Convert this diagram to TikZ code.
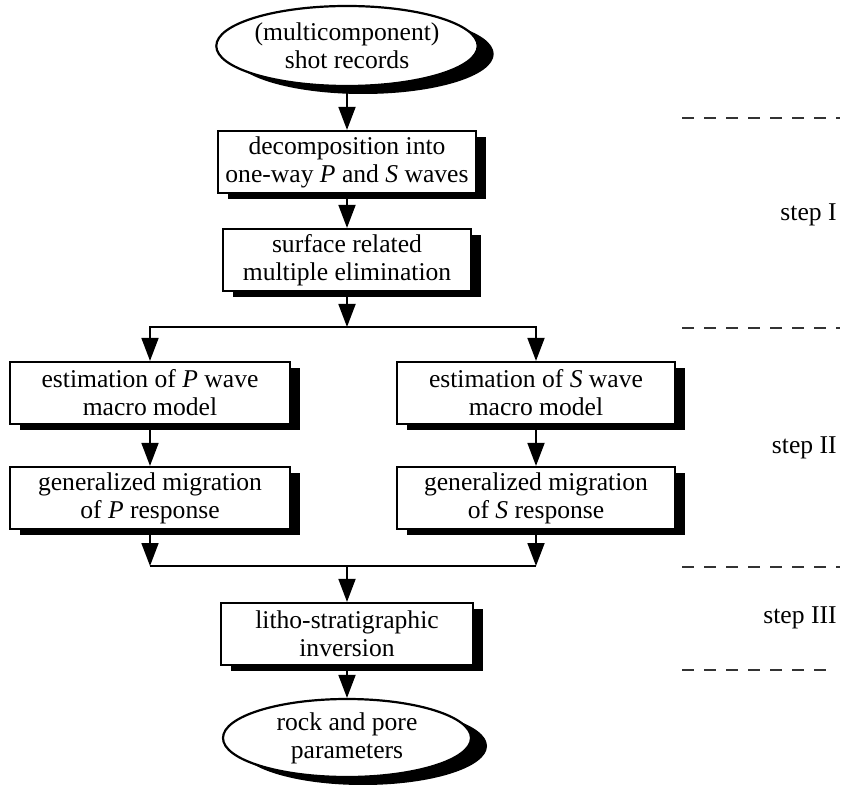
\documentclass[tikz,border=0pt]{standalone}
\usepackage{fontspec}
\setmainfont{Liberation Serif}
\usetikzlibrary{arrows.meta,shapes.geometric,shadows}
\begin{document}
\begin{tikzpicture}[x=0.5pt,y=-0.5pt,
  txt/.style={font=\fontsize{12.8}{14}\selectfont},
  procbox/.style={txt,draw,fill=white,line width=1.1pt,align=center,inner sep=0pt,
    minimum height=31pt,
    general shadow={fill=black,shadow xshift=5pt,shadow yshift=-3pt}},
  term/.style={txt,ellipse,draw,fill=white,line width=1.1pt,align=center,inner sep=0pt,
    general shadow={fill=black,shadow xshift=8pt,shadow yshift=-4pt}},
  arr/.style={line width=0.9pt,-{Triangle[length=11.5pt,width=8.5pt]}},
  conn/.style={line width=0.9pt},
  sepline/.style={line width=0.7pt,black!80,dash pattern=on 6pt off 5pt},
  steplbl/.style={txt,anchor=east,inner sep=0pt}]
\useasboundingbox (0,0) rectangle (845,785);

\node[term,minimum width=120pt,minimum height=40pt] (e1) at (347,46) {(multicomponent)\\shot records};
\node[procbox,minimum width=129pt] (b1) at (347,162) {decomposition into\\one-way \textit{P} and \textit{S} waves};
\node[procbox,minimum width=124pt] (b2) at (347,260) {surface related\\multiple elimination};
\node[procbox,minimum width=140pt] (b3l) at (150,393) {estimation of \textit{P} wave\\macro model};
\node[procbox,minimum width=139pt] (b3r) at (536,393) {estimation of \textit{S} wave\\macro model};
\node[procbox,minimum width=140pt] (b4l) at (150,498) {generalized migration\\of \textit{P} response};
\node[procbox,minimum width=139pt] (b4r) at (536,498) {generalized migration\\of \textit{S} response};
\node[procbox,minimum width=126pt] (b5) at (347,634) {litho-stratigraphic\\inversion};
\node[term,minimum width=124pt,minimum height=39pt] (e2) at (347,738) {rock and pore\\parameters};

\coordinate (j1) at (347,327);
\coordinate (j2) at (347,566);
\coordinate (j2l) at (150,566);
\coordinate (j2r) at (536,566);

\draw[arr] (e1) -- (b1);
\draw[arr] (b1) -- (b2);
\draw[arr] (b2) -- (j1);
\draw[arr] (j1) -| (b3l);
\draw[arr] (j1) -| (b3r);
\draw[arr] (b3l) -- (b4l);
\draw[arr] (b3r) -- (b4r);
\draw[arr] (b4l) -- (j2l);
\draw[arr] (b4r) -- (j2r);
\draw[conn] (j2l) -- (j2r);
\draw[arr] (j2) -- (b5);
\draw[arr] (b5) -- (e2);

\coordinate (d1a) at (682,118); \coordinate (d1b) at (840,118);
\coordinate (d2a) at (682,328); \coordinate (d2b) at (840,328);
\coordinate (d3a) at (682,567); \coordinate (d3b) at (840,567);
\coordinate (d4a) at (682,670); \coordinate (d4b) at (832,670);
\draw[sepline] (d1a) -- (d1b);
\draw[sepline] (d2a) -- (d2b);
\draw[sepline] (d3a) -- (d3b);
\draw[sepline] (d4a) -- (d4b);

\node[steplbl] (s1) at (837,215) {step I};
\node[steplbl] (s2) at (837,448) {step II};
\node[steplbl] (s3) at (837,618) {step III};
\end{tikzpicture}
\end{document}
